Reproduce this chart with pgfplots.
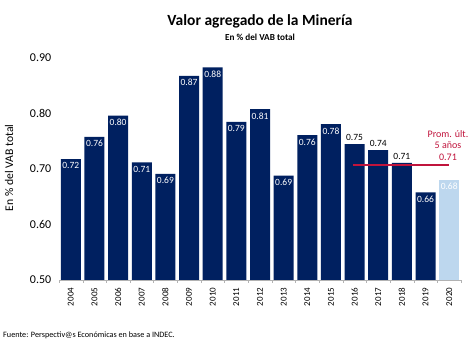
\documentclass[border=0pt]{standalone}
\usepackage{fontspec}
\setmainfont{Carlito}
\usepackage{pgfplots}
\pgfplotsset{compat=1.18}
\definecolor{navy}{HTML}{002060}
\definecolor{lblue}{HTML}{BDD7EE}
\definecolor{promred}{HTML}{C0143C}
\begin{document}
\begin{tikzpicture}
\path[use as bounding box] (0,0) rectangle (474pt,355pt);
\node[font=\fontsize{15.5}{18}\selectfont\bfseries] at (260pt,334pt) {Valor agregado de la Minería};
\node[font=\fontsize{9.2}{11}\selectfont\bfseries] at (260pt,318pt) {En \% del VAB total};
\node[font=\fontsize{8.2}{10}\selectfont, anchor=west, inner sep=0pt] at (3pt,20pt) {Fuente: Perspectiv@s Económicas en base a INDEC.};
\node[font=\fontsize{11.7}{14}\selectfont, rotate=90] at (9pt,187pt) {En \% del VAB total};
\begin{axis}[
  at={(59pt,75pt)}, anchor=south west, scale only axis,
  width=402pt, height=222pt,
  xmin=-0.5, xmax=16.5, ymin=0.5, ymax=0.9,
  clip=false,
  axis x line*=bottom, axis y line*=left,
  y axis line style={draw=none},
  x axis line style={draw=gray!60},
  ytick={0.5,0.6,0.7,0.8,0.9},
  ytick style={draw=none},
  yticklabel style={font=\fontsize{12}{14}\selectfont, /pgf/number format/fixed, /pgf/number format/fixed zerofill, /pgf/number format/precision=2, /pgf/number format/assume math mode=true},
  xtick={0,...,16},
  xticklabels={2004,2005,2006,2007,2008,2009,2010,2011,2012,2013,2014,2015,2016,2017,2018,2019,2020},
  x tick label style={rotate=90, anchor=east, font=\fontsize{9}{10}\selectfont},
  major x tick style={draw=none},
  minor xtick={-0.5,0.5,...,16.5},
  minor x tick style={draw=gray!60},
  minor tick length=3pt,
  tick align=outside,
]
\addplot[ybar, bar width=20pt, bar shift=0pt, fill=navy, draw=none,
  nodes near coords, point meta=explicit symbolic,
  every node near coord/.append style={anchor=north, text=white, font=\fontsize{9.5}{11}\selectfont}]
  table[meta=lab] {
x y lab
0 0.718 0.72
1 0.758 0.76
2 0.796 0.80
3 0.712 0.71
4 0.691 0.69
5 0.868 0.87
6 0.883 0.88
7 0.785 0.79
8 0.808 0.81
9 0.688 0.69
10 0.761 0.76
11 0.781 0.78
15 0.658 0.66
};
\addplot[ybar, bar width=20pt, bar shift=0pt, fill=navy, draw=none,
  nodes near coords, point meta=explicit symbolic,
  every node near coord/.append style={anchor=south, text=black, font=\fontsize{9.5}{11}\selectfont}]
  table[meta=lab] {
x y lab
12 0.745 0.75
13 0.734 0.74
14 0.711 0.71
};
\addplot[ybar, bar width=20pt, bar shift=0pt, fill=lblue, draw=none,
  nodes near coords, point meta=explicit symbolic,
  every node near coord/.append style={anchor=south, text=white, font=\fontsize{9.5}{11}\selectfont, yshift=-13pt}]
  table[meta=lab] {
x y lab
16 0.680 0.68
};
\addplot[color=promred, line width=1.5pt, mark=none] coordinates {(11.93,0.707) (16.0,0.707)};
\node[text=promred, align=center, font=\fontsize{10}{11.5}\selectfont] at (axis cs:15.95,0.743) {Prom. últ.\\5 años\\0.71};
\end{axis}
\end{tikzpicture}
\end{document}
